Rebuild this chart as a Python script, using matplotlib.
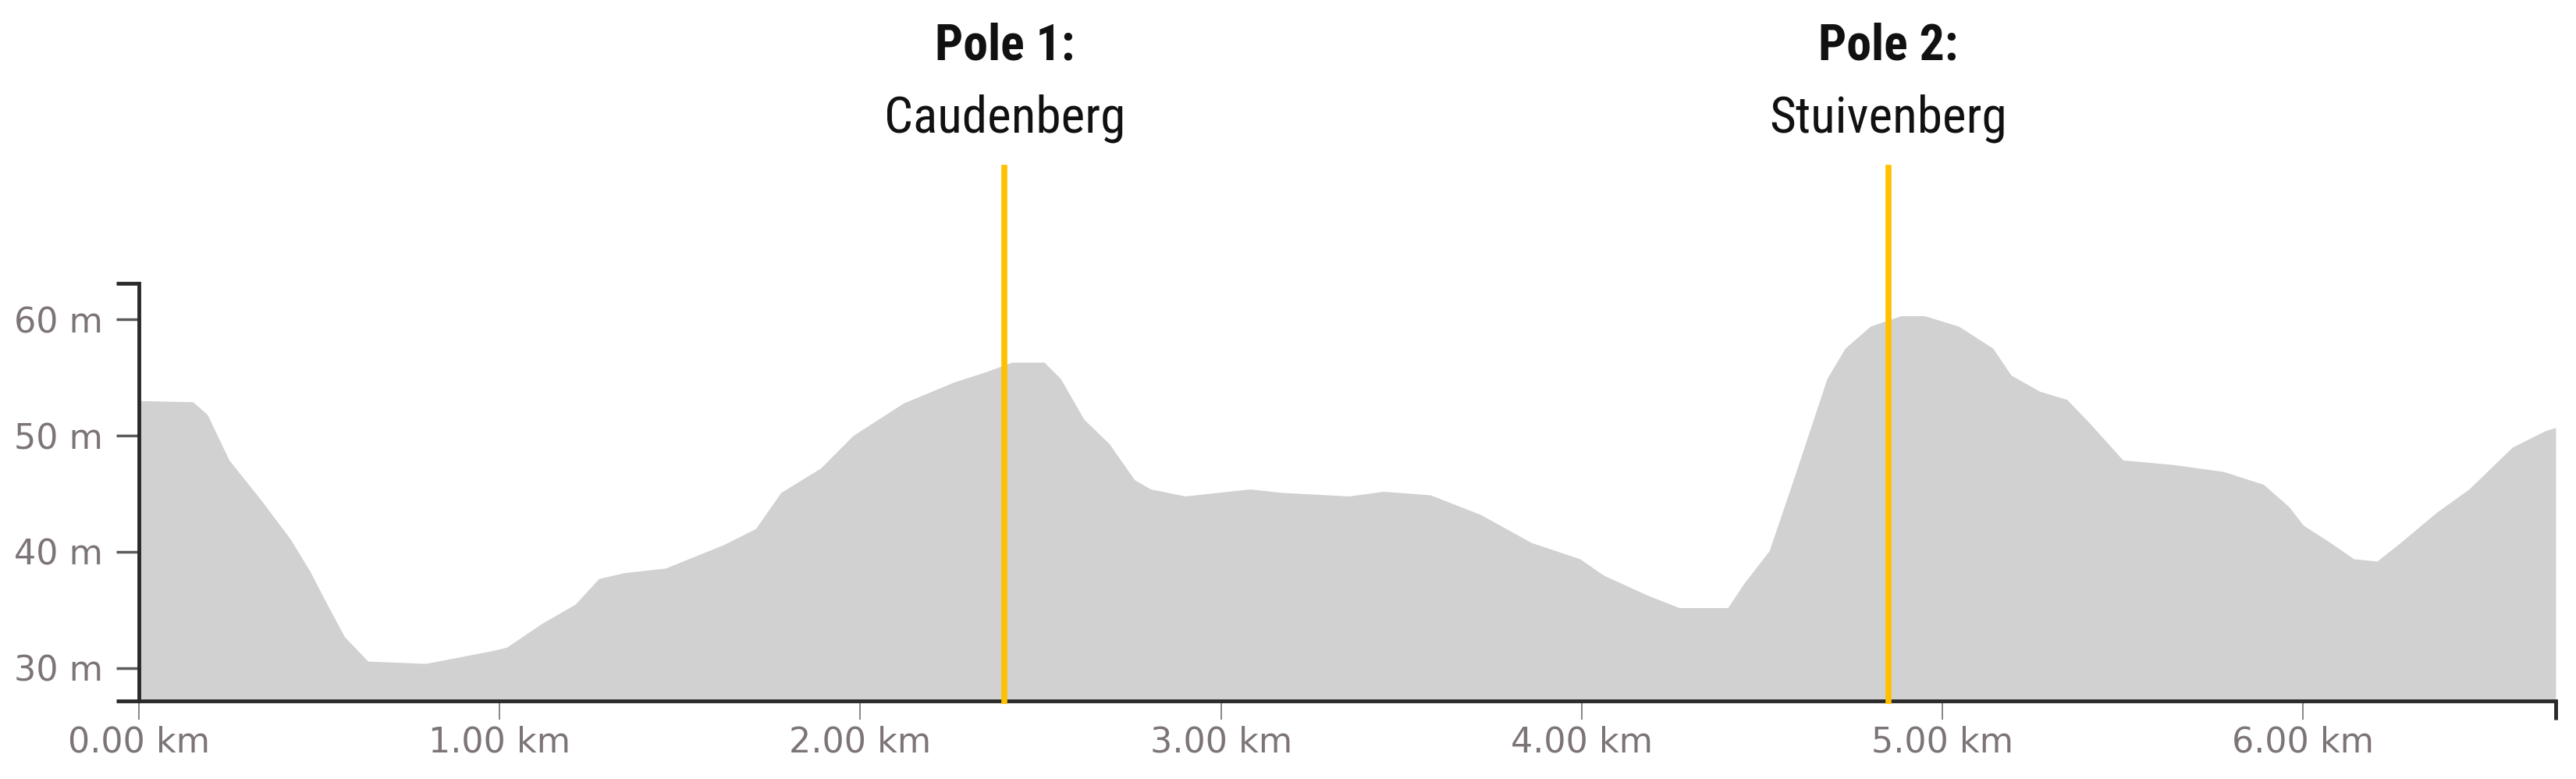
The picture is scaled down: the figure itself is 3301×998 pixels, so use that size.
import numpy as np
import matplotlib.pyplot as plt
from matplotlib.lines import Line2D
from matplotlib import font_manager

# elevation profile (km, m)
dist_km = [0.00, 0.15, 0.19, 0.25, 0.34, 0.42, 0.475, 0.52, 0.57, 0.635,
           0.795, 0.98, 1.02, 1.115, 1.21, 1.275, 1.345, 1.46, 1.62, 1.71,
           1.78, 1.89, 1.98, 2.12, 2.26, 2.35, 2.42, 2.51, 2.555, 2.62,
           2.69, 2.76, 2.805, 2.90, 3.08, 3.17, 3.355, 3.45, 3.58, 3.72,
           3.86, 3.995, 4.06, 4.18, 4.27, 4.405, 4.45, 4.52, 4.59, 4.635,
           4.68, 4.73, 4.80, 4.885, 4.95, 5.045, 5.14, 5.19, 5.27, 5.345,
           5.41, 5.50, 5.64, 5.78, 5.89, 5.96, 6.00, 6.075, 6.14, 6.205,
           6.27, 6.37, 6.46, 6.58, 6.67, 6.70]
elev_m = [53.0, 52.9, 51.8, 47.9, 44.4, 41.1, 38.3, 35.6, 32.7, 30.6,
          30.4, 31.5, 31.8, 33.8, 35.5, 37.7, 38.2, 38.6, 40.6, 42.0,
          45.1, 47.2, 50.0, 52.8, 54.6, 55.5, 56.3, 56.3, 54.9, 51.4,
          49.3, 46.2, 45.4, 44.8, 45.4, 45.1, 44.8, 45.2, 44.9, 43.2,
          40.8, 39.4, 38.0, 36.3, 35.2, 35.2, 37.3, 40.1, 46.5, 50.7,
          54.9, 57.5, 59.4, 60.3, 60.3, 59.4, 57.5, 55.2, 53.8, 53.1,
          51.0, 47.9, 47.5, 46.9, 45.8, 43.9, 42.3, 40.8, 39.4, 39.2,
          40.8, 43.4, 45.4, 49.0, 50.4, 50.7]

pole_km = [2.40, 4.85]
pole_title = ["Pole 1:", "Pole 2:"]
pole_name = ["Caudenberg", "Stuivenberg"]

elev_ticks = [30, 40, 50, 60]
km_ticks = [0, 1, 2, 3, 4, 5, 6]

y_lo, y_hi = 27.18, 63.09
x_hi = 6.70

label_grey = '#7d7479'

# pick a narrow face if one is around
names = set(f.name for f in font_manager.fontManager.ttflist)
narrow = [n for n in ['Roboto Condensed', 'Liberation Sans Narrow',
                      'DejaVu Sans Condensed', 'Roboto'] if n in names]
narrow.append('DejaVu Sans')
print(sorted(names))

fig = plt.figure(figsize=(33.01, 9.98), dpi=100)
ax = fig.add_axes([0.0539, 0.1002, 0.9382, 0.5361])

ax.fill_between(dist_km, elev_m, y_lo, color='#d1d1d1', linewidth=0)

ax.set_xlim(0, x_hi)
ax.set_ylim(y_lo, y_hi)

ax.set_yticks(elev_ticks)
ax.set_yticklabels(["%d m" % v for v in elev_ticks])
ax.set_xticks(km_ticks)
ax.set_xticklabels(["%.2f km" % v for v in km_ticks])

ax.tick_params(axis='y', length=21, width=2.5, color='#5e5a5c',
               labelsize=32, labelcolor=label_grey, pad=12)
ax.tick_params(axis='x', length=17, width=1.4, color='#8a8488',
               labelsize=32, labelcolor=label_grey, pad=6)

for s in ['top', 'right']:
    ax.spines[s].set_visible(False)
for s in ['left', 'bottom']:
    ax.spines[s].set_linewidth(3.5)
    ax.spines[s].set_color('#2a2a2a')

# outer ticks at the ends of the axis lines
dx = 0.0094
dy = 0.045
for xs, ys in [([-dx, 0], [1, 1]), ([-dx, 0], [0, 0]), ([1, 1], [0, -dy])]:
    ax.add_line(Line2D(xs, ys, transform=ax.transAxes, color='#2a2a2a',
                       linewidth=3.5, clip_on=False, solid_capstyle='butt'))

# poles
top_frac = (73.0 - y_lo) / (y_hi - y_lo)
for x, t, n in zip(pole_km, pole_title, pole_name):
    ax.axvline(x, ymin=0, ymax=top_frac, color='#ffc000', linewidth=5.5,
               clip_on=False, zorder=3)
    tr = ax.get_xaxis_transform()
    ax.text(x, 1.5346, t, transform=tr, ha='center', va='baseline',
            fontsize=46, fontweight='bold', family=narrow, color='#111111')
    ax.text(x, 1.3607, n, transform=tr, ha='center', va='baseline',
            fontsize=47, family=narrow, color='#111111')

fig.savefig('out.png', dpi=100)
